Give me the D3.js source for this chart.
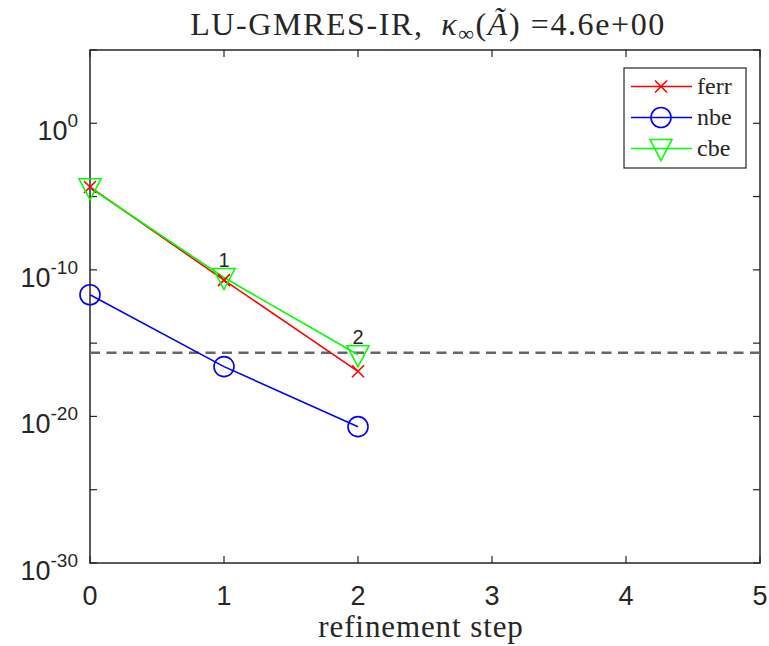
<!DOCTYPE html>
<html>
<head>
<meta charset="utf-8">
<script src="https://cdn.jsdelivr.net/npm/d3@7"></script>
<style>
body{margin:0;background:#fff;}
svg{display:block;}
</style>
</head>
<body>
<svg id="chart" width="769" height="646"></svg>
<script>
// ---- data ----
const steps = [0, 1, 2];
const ferr = [4.5e-5, 2.0e-11, 1.2e-17];
const nbe  = [2.0e-12, 2.5e-17, 2.0e-21];
const cbe  = [4.0e-5, 3.0e-11, 1.6e-16];
const uRef = 2.2e-16;            // dashed reference line
const stepLabels = ["1", "2"];   // annotated at cbe points of steps 1,2
const xTicks = [0, 1, 2, 3, 4, 5];
const yMajor = [0, -10, -20, -30];
const yMinor = [5, -5, -15, -25];
const seriesNames = ["ferr", "nbe", "cbe"];
const seriesColors = ["#ff0000", "#0000ff", "#00ff00"];
const titleMain = "LU-GMRES-IR,";
const titleValue = "4.6e+00";
const xLabel = "refinement step";

// ---- layout ----
const L = 90, R = 760, T = 50, B = 563;
const svg = d3.select("#chart");
const x = d3.scaleLinear().domain([0, 5]).range([L, R]);
const y = d3.scaleLog().domain([1e-30, 1e5]).range([B, T]);

const axisColor = "#262626";
const sans = "'Liberation Sans', Arial, sans-serif";
const serif = "'Liberation Serif', 'Times New Roman', serif";

// box
svg.append("rect").attr("x", L).attr("y", T).attr("width", R - L).attr("height", B - T)
  .attr("fill", "none").attr("stroke", axisColor).attr("stroke-width", 1.5);

// x ticks (bottom + top)
const tickLen = 7;
xTicks.forEach(t => {
  svg.append("line").attr("x1", x(t)).attr("x2", x(t)).attr("y1", B).attr("y2", B - tickLen)
    .attr("stroke", axisColor).attr("stroke-width", 1.2);
  svg.append("line").attr("x1", x(t)).attr("x2", x(t)).attr("y1", T).attr("y2", T + tickLen)
    .attr("stroke", axisColor).attr("stroke-width", 1.2);
  svg.append("text").attr("x", x(t)).attr("y", 605).attr("text-anchor", "middle")
    .attr("font-family", sans).attr("font-size", 27).attr("fill", "#262626").text(t);
});

// y ticks
yMajor.concat(yMinor).forEach(e => {
  const yy = y(Math.pow(10, e));
  svg.append("line").attr("x1", L).attr("x2", L + tickLen).attr("y1", yy).attr("y2", yy)
    .attr("stroke", axisColor).attr("stroke-width", 1.2);
  svg.append("line").attr("x1", R).attr("x2", R - tickLen).attr("y1", yy).attr("y2", yy)
    .attr("stroke", axisColor).attr("stroke-width", 1.2);
});
yMajor.forEach(e => {
  const yy = y(Math.pow(10, e));
  const t = svg.append("text").attr("x", 78).attr("y", yy + 17).attr("text-anchor", "end")
    .attr("font-family", sans).attr("font-size", 27).attr("fill", "#262626");
  t.append("tspan").text("10");
  t.append("tspan").attr("dy", -13).attr("font-size", 19).text(e);
});

// dashed line
svg.append("line").attr("x1", L).attr("x2", R).attr("y1", y(uRef)).attr("y2", y(uRef))
  .attr("stroke", "#666").attr("stroke-width", 2.5).attr("stroke-dasharray", "10,6.5");

// series
const line = d3.line().x((d, i) => x(steps[i])).y(d => y(d));
const allSeries = [ferr, nbe, cbe];
allSeries.forEach((s, k) => {
  svg.append("path").attr("d", line(s)).attr("fill", "none")
    .attr("stroke", seriesColors[k]).attr("stroke-width", 1.6);
});

function marker(g, k, cx, cy) {
  const c = seriesColors[k];
  if (k === 0) {
    const s = 6;
    g.append("path").attr("d", `M${cx - s},${cy - s}L${cx + s},${cy + s}M${cx - s},${cy + s}L${cx + s},${cy - s}`)
      .attr("stroke", c).attr("stroke-width", 1.6).attr("fill", "none");
  } else if (k === 1) {
    g.append("circle").attr("cx", cx).attr("cy", cy).attr("r", 10)
      .attr("stroke", c).attr("stroke-width", 1.6).attr("fill", "none");
  } else {
    const w = 11, h = 9;
    g.append("path").attr("d", `M${cx - w},${cy - h}L${cx + w},${cy - h}L${cx},${cy + h + 3}Z`)
      .attr("stroke", c).attr("stroke-width", 1.6).attr("fill", "none");
  }
}
allSeries.forEach((s, k) => {
  s.forEach((v, i) => marker(svg, k, x(steps[i]), y(v)));
});

// step annotations
stepLabels.forEach((lab, i) => {
  const st = i + 1;
  svg.append("text").attr("x", x(steps[st])).attr("y", y(cbe[st]) - 11).attr("text-anchor", "middle")
    .attr("font-family", sans).attr("font-size", 20).attr("fill", "#262626").text(lab);
});

// legend
const lg = svg.append("g");
lg.append("rect").attr("x", 624).attr("y", 68).attr("width", 122).attr("height", 100)
  .attr("fill", "#fff").attr("stroke", axisColor).attr("stroke-width", 1.2);
seriesNames.forEach((n, k) => {
  const yy = 86.5 + k * 31;
  lg.append("line").attr("x1", 631).attr("x2", 692).attr("y1", yy).attr("y2", yy)
    .attr("stroke", seriesColors[k]).attr("stroke-width", 1.6);
  marker(lg, k, 661, yy);
  lg.append("text").attr("x", 697).attr("y", yy + 7).attr("font-family", serif)
    .attr("font-size", 24).attr("fill", "#262626").text(n);
});

// title
const tt = svg.append("text").attr("x", 428).attr("y", 35).attr("text-anchor", "middle")
  .attr("font-family", serif).attr("font-size", 32).attr("letter-spacing", 1.6).attr("fill", "#262626");
tt.append("tspan").text(titleMain + "\u2002");
tt.append("tspan").attr("font-style", "italic").text("\u03BA");
tt.append("tspan").attr("dy", 6).attr("font-size", 22).text("\u221E");
tt.append("tspan").attr("dy", -6).text("(");
tt.append("tspan").attr("font-style", "italic").text("\u00C3");
tt.append("tspan").text(") =" + titleValue);

// x label
svg.append("text").attr("x", 421).attr("y", 637).attr("text-anchor", "middle")
  .attr("font-family", serif).attr("font-size", 31).attr("letter-spacing", 0.9).attr("fill", "#262626").text(xLabel);
</script>
</body>
</html>
